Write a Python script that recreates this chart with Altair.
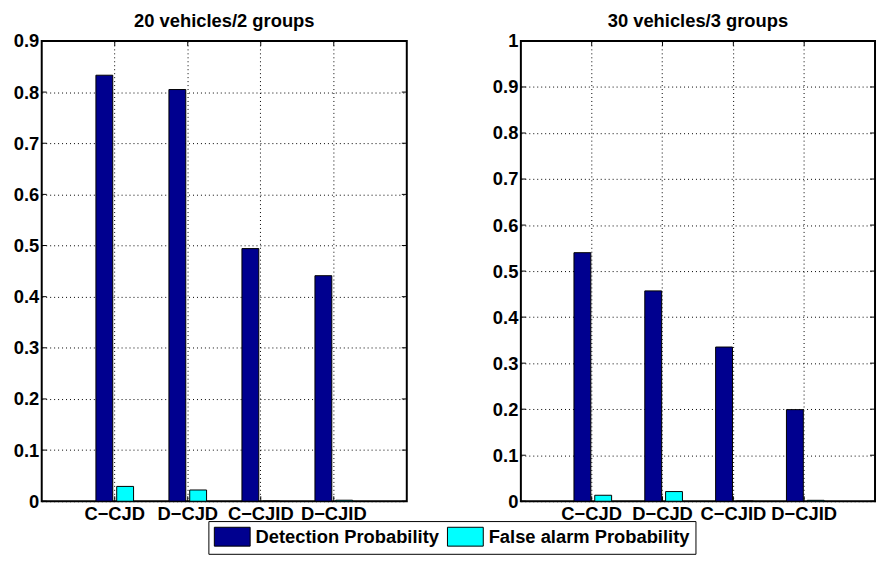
import altair as alt
import pandas as pd

methods = ["C\u2212CJD", "D\u2212CJD", "C\u2212CJID", "D\u2212CJID"]
series = ["Detection Probability", "False alarm Probability"]
titles = ["20 vehicles/2 groups", "30 vehicles/3 groups"]

det_20 = [0.833, 0.805, 0.494, 0.441]
fa_20 = [0.029, 0.022, 0.0, 0.002]
det_30 = [0.540, 0.457, 0.335, 0.199]
fa_30 = [0.013, 0.021, 0.0, 0.002]

yticks_20 = [0, 0.1, 0.2, 0.3, 0.4, 0.5, 0.6, 0.7, 0.8, 0.9]
yticks_30 = [0, 0.1, 0.2, 0.3, 0.4, 0.5, 0.6, 0.7, 0.8, 0.9, 1.0]
ymax = [0.9, 1.0]

NAVY = "#00008f"
CYAN = "#00ffff"
FONT = "Liberation Sans"
FS = 18.5
H = 464


def panel(det, fa, title, ym, yticks, W, legend):
    df = pd.DataFrame({
        "method": methods * 2,
        "series": [series[0]] * 4 + [series[1]] * 4,
        "value": det + fa,
    })
    xsc = alt.Scale(domain=methods, paddingInner=0, paddingOuter=0.5)
    ysc = alt.Scale(domain=[0, ym], nice=False, zero=True)
    xax = alt.Axis(title=None, labelAngle=0, bandPosition=0.5, grid=True,
                   ticks=False, domain=False, labelPadding=3)
    yax = alt.Axis(title=None, values=yticks, format=".1~f", grid=True,
                   ticks=False, domain=False, labelPadding=3)
    bars = alt.Chart(df).mark_bar(stroke="black", strokeWidth=1).encode(
        x=alt.X("method:N", sort=methods, scale=xsc, axis=xax),
        xOffset=alt.XOffset("series:N", sort=series,
                            scale=alt.Scale(domain=series, paddingInner=0.19, paddingOuter=0.85)),
        y=alt.Y("value:Q", scale=ysc, axis=yax),
        color=alt.Color("series:N", sort=series,
                        scale=alt.Scale(domain=series, range=[NAVY, CYAN]),
                        legend=legend),
    )
    ydf = pd.DataFrame({"value": yticks})
    xdf = pd.DataFrame({"method": methods})
    yl = alt.Chart(ydf).mark_rule(color="black", strokeWidth=1).encode(
        y=alt.Y("value:Q", scale=ysc, axis=yax), x=alt.value(0), x2=alt.value(5))
    yr = alt.Chart(ydf).mark_rule(color="black", strokeWidth=1).encode(
        y=alt.Y("value:Q", scale=ysc, axis=yax), x=alt.value(W - 5), x2=alt.value(W))
    xb = alt.Chart(xdf).mark_rule(color="black", strokeWidth=1).encode(
        x=alt.X("method:N", sort=methods, scale=xsc, axis=xax), y=alt.value(H - 5), y2=alt.value(H))
    xt = alt.Chart(xdf).mark_rule(color="black", strokeWidth=1).encode(
        x=alt.X("method:N", sort=methods, scale=xsc, axis=xax), y=alt.value(0), y2=alt.value(5))
    return alt.layer(bars, yl, yr, xb, xt).properties(
        width=W, height=H, title=alt.Title(title, offset=2))


legend = alt.Legend(
    title=None, orient="none", legendX=168, legendY=484, direction="horizontal",
    symbolType="M-1,-1H2.8V1H-1Z", symbolSize=361, symbolStrokeColor="black",
    symbolStrokeWidth=1, symbolOpacity=1, labelOffset=22, columnPadding=5,
    labelLimit=400, padding=5.5, strokeColor="black", fillColor="white",
)

left = panel(det_20, fa_20, titles[0], ymax[0], yticks_20, 368, legend)
right = panel(det_30, fa_30, titles[1], ymax[1], yticks_30, 357, legend)

chart = alt.hconcat(left, right, spacing=83).properties(
    padding={"left": 4, "top": 0, "right": 0, "bottom": 0}
).configure_view(
    stroke="black", strokeWidth=2
).configure_axis(
    labelFont=FONT, labelFontSize=FS, labelFontWeight="bold", labelColor="black",
    gridColor="black", gridDash=[1, 3], gridWidth=1, gridOpacity=1,
).configure_title(
    font=FONT, fontSize=FS, fontWeight="bold", color="black", anchor="middle",
).configure_legend(
    labelFont=FONT, labelFontSize=FS, labelFontWeight="bold", labelColor="black",
)

chart.save("out.html", embed_options={"renderer": "svg", "actions": False})
